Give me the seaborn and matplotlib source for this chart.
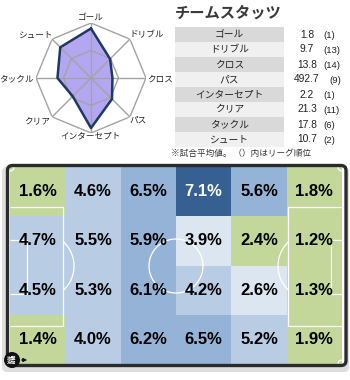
import numpy as np
import pandas as pd
import matplotlib
matplotlib.use("Agg")
import matplotlib.pyplot as plt
import seaborn as sns
from matplotlib.colors import ListedColormap, BoundaryNorm
from matplotlib.patches import FancyBboxPatch, Circle

# ---------------- data ----------------
radar_labels = ["ゴール", "ドリブル", "クロス", "パス", "インターセプト", "クリア", "タックル", "シュート"]
radar_values = [0.90, 0.49, 0.39, 0.54, 0.91, 0.47, 0.61, 0.79]

table_title = "チームスタッツ"
stat_labels = ["ゴール", "ドリブル", "クロス", "パス", "インターセプト", "クリア", "タックル", "シュート"]
stat_values = ["1.8", "9.7", "13.8", "492.7", "2.2", "21.3", "17.8", "10.7"]
stat_ranks = [1, 13, 14, 9, 1, 11, 6, 2]
footnote = "※試合平均値。 （）内はリーグ順位"

zone_row1 = [1.6, 4.6, 6.5, 7.1, 5.6, 1.8]
zone_row2 = [4.7, 5.5, 5.9, 3.9, 2.4, 1.2]
zone_row3 = [4.5, 5.3, 6.1, 4.2, 2.6, 1.3]
zone_row4 = [1.4, 4.0, 6.2, 6.5, 5.2, 1.9]

# ---------------- style ----------------
sns.set_style("white")
plt.rcParams["font.family"] = ["Noto Sans CJK JP", "DejaVu Sans"]

W, H = 350, 380
fig = plt.figure(figsize=(3.5, 3.8), dpi=100)
fig.patch.set_facecolor("white")


def rect(l, t, r, b):
    return [l / W, 1 - b / H, (r - l) / W, (b - t) / H]


PT = 0.72  # points per pixel at dpi 100

# background axes (shadow + white panel behind pitch)
bg = fig.add_axes([0, 0, 1, 1], zorder=0)
bg.set_xlim(0, W)
bg.set_ylim(H, 0)
bg.axis("off")
bg.add_patch(FancyBboxPatch((2, 167), 347, 205, boxstyle="round,pad=0,rounding_size=5",
                            fc="#dedede", ec="none"))
bg.add_patch(FancyBboxPatch((7.5, 165.5), 338.5, 200, boxstyle="round,pad=0,rounding_size=5",
                            fc="white", ec="none"))

# ---------------- radar ----------------
cx, cy, R = 91, 78, 55
rad = fig.add_axes(rect(cx - R, cy - R, cx + R, cy + R), projection="polar", zorder=2)
rad.set_theta_offset(np.pi / 2)
rad.set_theta_direction(-1)
rad.set_ylim(0, 1)
rad.axis("off")
n = len(radar_labels)
ang = np.arange(n) * 2 * np.pi / n
ang_c = np.append(ang, ang[0])
vals_c = np.append(radar_values, radar_values[0])
rad.fill(ang_c, vals_c, color="#b3a7f2", zorder=1, lw=0)
for lev in (0.5, 1.0):
    rad.plot(ang_c, [lev] * (n + 1), color="#a3a3a3", lw=1.0, zorder=2)
for a in ang:
    rad.plot([a, a], [0, 1], color="#a3a3a3", lw=1.0, zorder=2)
rad.plot(ang_c, vals_c, color="#1f3864", lw=1.8, zorder=3, solid_joinstyle="round")

label_pos = [  # (ha, dx px, dy px)
    ("center", 0, 5.7),
    ("left", -0.7, 4.0),
    ("left", 0.7, -1.0),
    ("left", 0, -3.7),
    ("center", -1, -3.3),
    ("right", -2, -3.7),
    ("right", -2.7, -1.0),
    ("right", 0, 4.0),
]
for a, lab, (ha, dx, dy) in zip(ang, radar_labels, label_pos):
    rad.annotate(lab, xy=(a, 1.0), xytext=(dx * PT, dy * PT), textcoords="offset points",
                 ha=ha, va="center", fontsize=6.2, color="#222222", annotation_clip=False)

# ---------------- table ----------------
ov = fig.add_axes([0, 0, 1, 1], zorder=5)
ov.set_xlim(0, W)
ov.set_ylim(H, 0)
ov.axis("off")
ov.patch.set_alpha(0)

ov.text(175, 12.5, table_title, fontsize=11, fontweight="bold", ha="left", va="center",
        color="#3a3a3a")
ov.text(171, 153, footnote, fontsize=6.2, ha="left", va="center", color="#333333")

tb = fig.add_axes(rect(175, 27, 345, 147), zorder=3)
tb.set_xlim(0, 170)
tb.set_ylim(len(stat_labels), 0)
tb.axis("off")
rows = np.arange(len(stat_labels)) + 0.5
tb.barh(rows, [109] * len(rows), left=0, height=1.0,
        color=["#d9d9d9" if i % 2 == 0 else "#f0f0f0" for i in range(len(rows))], lw=0)
for y, lab, v, rk in zip(rows, stat_labels, stat_values, stat_ranks):
    tb.text(54.5, y, lab, ha="center", va="center", fontsize=7, color="#222222")
    tb.text(132, y, v, ha="center", va="center", fontsize=7.4, color="#222222",
            family="Liberation Sans")
    rx = 148 if len(v) <= 4 else 154
    tb.text(rx, y + 0.05, f"({rk})", ha="left", va="center", fontsize=6.8, color="#222222",
            family="Liberation Sans")

# ---------------- pitch heatmap ----------------
L, T, Rr, B = 10, 167, 342, 364
hm = fig.add_axes(rect(L, T, Rr, B), zorder=1)
zone = pd.DataFrame([zone_row1, zone_row2, zone_row3, zone_row4])
annot = zone.map(lambda v: f"{v:.1f}%")
cmap = ListedColormap(["#c4d79b", "#dce6f1", "#b8cce4", "#95b3d7", "#366092"])
norm = BoundaryNorm([0, 2.5, 3.95, 5.55, 7.0, 100], cmap.N)
sns.heatmap(zone, ax=hm, cmap=cmap, norm=norm, cbar=False, annot=annot, fmt="",
            annot_kws=dict(fontsize=12, fontweight="bold", family="Liberation Sans"),
            xticklabels=False, yticklabels=False, linewidths=0)
flat = zone.values.flatten()
for t, v in zip(hm.texts, flat):
    t.set_color("white" if v >= 7.0 else "black")

cw = (Rr - L) / zone.shape[1]
rh = (B - T) / zone.shape[0]


def fx(px):
    return (np.asarray(px) - L) / cw


def fy(py):
    return (np.asarray(py) - T) / rh


lk = dict(color="white", lw=0.9, solid_capstyle="butt", clip_on=False)
# left penalty / goal areas
hm.plot(fx([L, 63, 63, L]), fy([207, 207, 326, 326]), **lk)
hm.plot(fx([L, 27, 27, L]), fy([240, 240, 294, 294]), **lk)
# right penalty / goal areas
hm.plot(fx([Rr, 288, 288, Rr]), fy([207, 207, 326, 326]), **lk)
hm.plot(fx([Rr, 331, 331, Rr]), fy([240, 240, 294, 294]), **lk)
# penalty arcs
t = np.radians(np.linspace(-48, 48, 40))
hm.plot(fx(41 + 33 * np.cos(t)), fy(266 + 33 * np.sin(t)), **lk)
hm.plot(fx(Rr - 31 - 33 * np.cos(t)), fy(266 + 33 * np.sin(t)), **lk)
# centre circle
t = np.linspace(0, 2 * np.pi, 120)
hm.plot(fx(176 + 27 * np.cos(t)), fy(266 + 27 * np.sin(t)), **lk)
# corner arcs
q = np.linspace(0, np.pi / 2, 15)
for (ox, oy, sx, sy) in [(L, T, 1, 1), (Rr, T, -1, 1), (L, B, 1, -1), (Rr, B, -1, -1)]:
    hm.plot(fx(ox + sx * 4 * np.cos(q)), fy(oy + sy * 4 * np.sin(q)), **lk)

# frame
ov.add_patch(FancyBboxPatch((7.5, 165.5), 338.5, 200, boxstyle="round,pad=0,rounding_size=5",
                            fc="none", ec="#2b2b2b", lw=2.4))

# attack direction icon
ov.add_patch(Circle((12, 360), 8, fc="#111111", ec="none"))
ov.text(12, 360, "攻撃\n方向", fontsize=3.4, color="white", fontweight="bold",
        ha="center", va="center", linespacing=1.0)
ov.annotate("", xy=(30, 360), xytext=(19, 360),
            arrowprops=dict(arrowstyle="-|>", color="#111111", lw=1.0, mutation_scale=5))

fig.savefig("out.png", dpi=100)
